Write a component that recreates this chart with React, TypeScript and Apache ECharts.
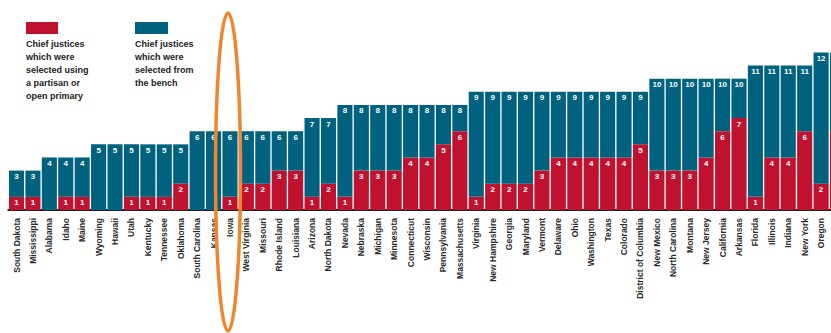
import React, { useEffect, useRef } from "react";
import * as echarts from "echarts";

const states = [
  "South Dakota", "Mississippi", "Alabama", "Idaho", "Maine", "Wyoming", "Hawaii", "Utah",
  "Kentucky", "Tennessee", "Oklahoma", "South Carolina", "Kansas", "Iowa", "West Virginia",
  "Missouri", "Rhode Island", "Louisiana", "Arizona", "North Dakota", "Nevada", "Nebraska",
  "Michigan", "Minnesota", "Connecticut", "Wisconsin", "Pennsylvania", "Massachusetts",
  "Virginia", "New Hampshire", "Georgia", "Maryland", "Vermont", "Delaware", "Ohio",
  "Washington", "Texas", "Colorado", "District of Columbia", "New Mexico", "North Carolina",
  "Montana", "New Jersey", "California", "Arkansas", "Florida", "Illinois", "Indiana",
  "New York", "Oregon", "Alaska",
];

const totals = [
  3, 3, 4, 4, 4, 5, 5, 5, 5, 5, 5, 6, 6, 6, 6, 6, 6, 6, 7, 7, 8, 8, 8, 8, 8, 8, 8, 8,
  9, 9, 9, 9, 9, 9, 9, 9, 9, 9, 9, 10, 10, 10, 10, 10, 10, 11, 11, 11, 11, 12, 12,
];

const redValues = [
  1, 1, 0, 1, 1, 0, 0, 1, 1, 1, 2, 0, 0, 1, 2, 2, 3, 3, 1, 2, 1, 3, 3, 3, 4, 4, 5, 6,
  1, 2, 2, 2, 3, 4, 4, 4, 4, 4, 5, 3, 3, 3, 4, 6, 7, 1, 4, 4, 6, 2, 6,
];

const redLegendLines = ["Chief justices", "which were", "selected using", "a partisan or", "open primary"];
const blueLegendLines = ["Chief justices", "which were", "selected from", "the bench"];

const RED = "#C0122F";
const BLUE = "#00627F";

export default function App() {
  const ref = useRef<HTMLDivElement>(null);
  useEffect(() => {
    document.body.style.margin = "0";
    const chart = echarts.init(ref.current!, null, { renderer: "svg" });
    const blueValues = totals.map((t, i) => t - redValues[i]);
    const lastIdx = states.length - 1;
    const catW = 16.42;
    chart.setOption({
      animation: false,
      grid: { left: 8.3, top: 13, width: catW * states.length, height: 197 },
      xAxis: {
        type: "category",
        data: states,
        axisTick: { show: false },
        axisLine: { lineStyle: { color: "#222", width: 2 } },
        axisLabel: {
          rotate: 90,
          interval: 0,
          margin: 8,
          fontSize: 8.5,
          fontWeight: "bold",
          color: "#2a2a2a",
          fontFamily: "Liberation Sans",
        },
      },
      yAxis: { type: "value", min: 0, max: 15, show: false },
      series: [
        {
          type: "bar",
          stack: "a",
          data: redValues,
          itemStyle: { color: RED },
          barCategoryGap: "8%",
          label: {
            show: true,
            position: "insideTop",
            distance: 2,
            color: "#fff",
            fontSize: 8,
            fontWeight: "bold",
            fontFamily: "Liberation Sans",
            formatter: (p: any) =>
              p.value > 0 && p.dataIndex !== lastIdx ? String(p.value) : "",
          },
        },
        {
          type: "bar",
          stack: "a",
          data: blueValues,
          itemStyle: { color: BLUE },
          barCategoryGap: "8%",
          label: {
            show: true,
            position: "insideTop",
            distance: 2,
            color: "#fff",
            fontSize: 8,
            fontWeight: "bold",
            fontFamily: "Liberation Sans",
            formatter: (p: any) => (p.dataIndex !== lastIdx ? String(totals[p.dataIndex]) : ""),
          },
        },
      ],
      graphic: [
        { type: "rect", shape: { x: 26, y: 22, width: 32, height: 12 }, style: { fill: RED } },
        { type: "rect", shape: { x: 135, y: 22, width: 33, height: 12 }, style: { fill: BLUE } },
        {
          type: "text",
          x: 26,
          y: 37,
          style: {
            text: redLegendLines.join("\n"),
            fill: "#222",
            font: "bold 9px 'Liberation Sans'",
            lineHeight: 13,
          },
        },
        {
          type: "text",
          x: 135,
          y: 37,
          style: {
            text: blueLegendLines.join("\n"),
            fill: "#222",
            font: "bold 9px 'Liberation Sans'",
            lineHeight: 13,
          },
        },
        {
          type: "ellipse",
          z: 100,
          shape: { cx: 228, cy: 172, rx: 12.5, ry: 159 },
          style: { fill: "none", stroke: "#F0852E", lineWidth: 3.5 },
        },
      ],
    });
    return () => chart.dispose();
  }, []);
  return (
    <div style={{ width: 831, height: 333, overflow: "hidden", position: "relative" }}>
      <div ref={ref} style={{ width: 850, height: 333 }} />
    </div>
  );
}
